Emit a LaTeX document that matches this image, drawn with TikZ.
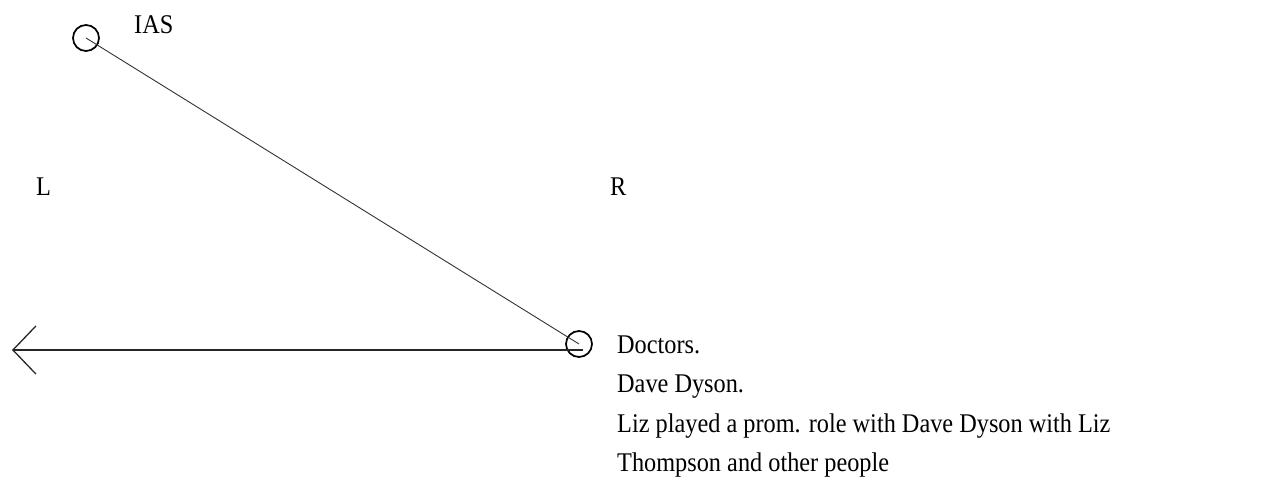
\documentclass[tikz,border=0pt]{standalone}
\usepackage{fontspec}
\setmainfont{Liberation Serif}
\usetikzlibrary{arrows.meta}
\begin{document}
\begin{tikzpicture}[x=1pt,y=-1pt,
  ring/.style={circle,draw,line width=1.7pt,minimum size=26pt,inner sep=0pt},
  body/.style={font=\fontsize{27}{27}\selectfont,xscale=0.9,inner sep=0pt,anchor=base west},
  link/.style={draw=black!80,line width=0.9pt},
  flow/.style={draw=black!85,line width=1.1pt,-{Straight Barb[length=23pt,width=48pt,line width=1.3pt]}}]
\useasboundingbox (0,0) rectangle (1279,502);
\node[ring] (top) at (86,38) {};
\node[ring] (bot) at (579,344) {};
\coordinate (tip) at (12,350);
\node[body] (ias) at (134,34) {IAS};
\node[body] (l) at (36,196) {L};
\node[body] (r) at (610,196) {R};
\node[body] (t1) at (617,353) {Doctors.};
\node[body] (t2) at (617,392) {Dave Dyson.};
\node[body] (t3) at (617,432) {Liz played a prom. role with Dave Dyson with Liz};
\node[body] (t4) at (617,471) {Thompson and other people};
\draw[link] (top.center) -- (bot.center);
\draw[flow] (bot.center |- tip) ++(4,0) -- (tip);
\end{tikzpicture}
\end{document}
